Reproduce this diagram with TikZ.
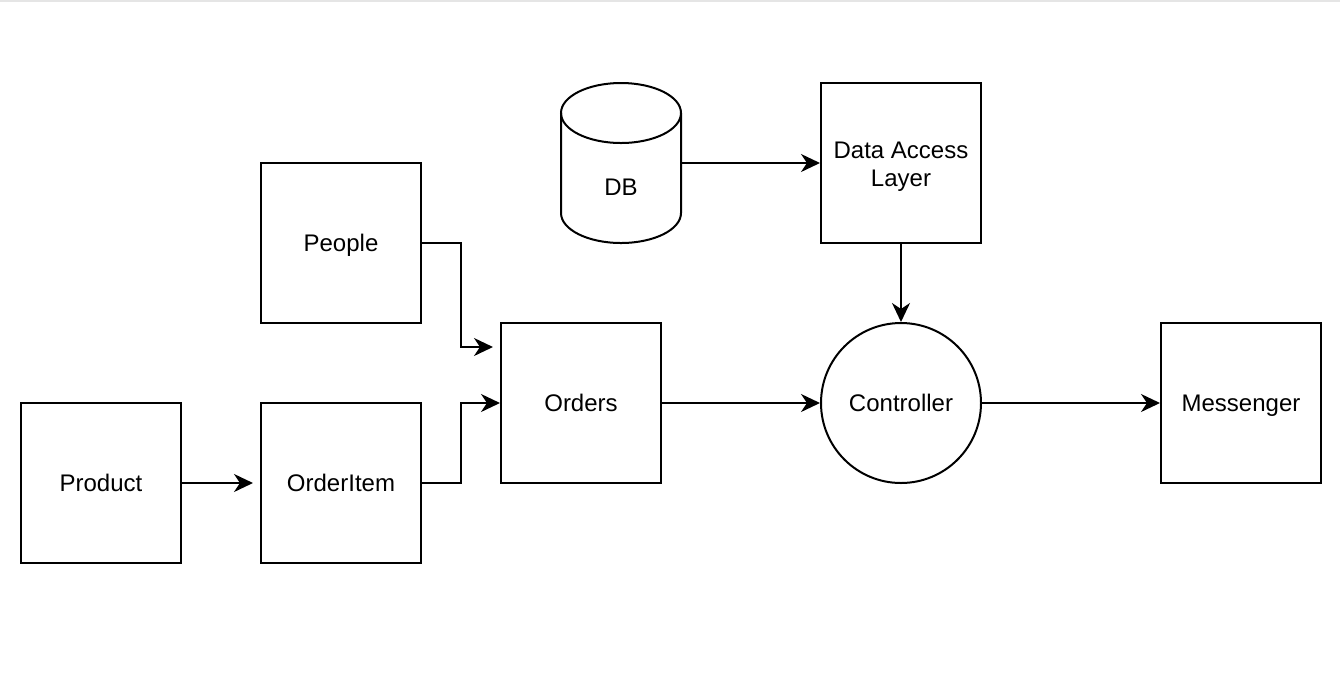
\documentclass[tikz,border=0pt]{standalone}
\usepackage{fontspec}
\setmainfont{Liberation Sans}
\usetikzlibrary{arrows.meta}
\begin{document}
\begin{tikzpicture}[x=0.5pt,y=-0.5pt,
  every node/.style={font=\fontsize{12}{14}\selectfont},
  box/.style={draw,line width=1pt,minimum width=80pt,minimum height=80pt,inner sep=0pt,align=center,text height=8.6pt,text depth=0pt},
  circ/.style={draw,circle,line width=1pt,minimum size=80pt,inner sep=0pt,text height=8.6pt,text depth=0pt},
  conn/.style={line width=1pt,-{Stealth[length=9.5pt,width=9pt,inset=3pt]}}]
\useasboundingbox (0,0) rectangle (1340,682);
\fill[gray!20] (0,0) rectangle (1340,2);
% cylinder
\draw[line width=1pt] (561,113) -- (561,213) arc (180:360:30pt and 15pt) -- (681,113);
\draw[line width=1pt] (621,113) ellipse (30pt and 15pt);
\node (db) at (621,163) [minimum width=60pt,minimum height=80pt,inner sep=0pt] {};
\node at (621,187) [text height=8.6pt,text depth=0pt,inner sep=0pt] {DB};
\node[box] (people) at (341,243) {People};
\node[box] (orders) at (581,403) {Orders};
\node[box] (product) at (101,483) {Product};
\node[box] (orderitem) at (341,483) {OrderItem};
\node[draw,line width=1pt,minimum width=80pt,minimum height=80pt,inner sep=0pt] (dal) at (901,163) {};
\node[align=center,inner sep=0pt] at ([yshift=-2pt]dal.center) {Data Access\\Layer};
\node[circ] (ctrl) at (901,403) {Controller};
\node[box] (msg) at (1241,403) {Messenger};
\coordinate (pe) at (493,347);
\coordinate (pr) at (253,483);
\draw[conn] (db.east) -- (dal.west);
\draw[conn] (dal.south) -- (ctrl.north);
\draw[conn] (people.east) -- (461,243) -- (461,347) -- (pe);
\draw[conn] (orderitem.east) -- (461,483) -- (461,403) -- (orders.west);
\draw[conn] (product.east) -- (pr);
\draw[conn] (orders.east) -- (ctrl.west);
\draw[conn] (ctrl.east) -- (msg.west);
\end{tikzpicture}
\end{document}
